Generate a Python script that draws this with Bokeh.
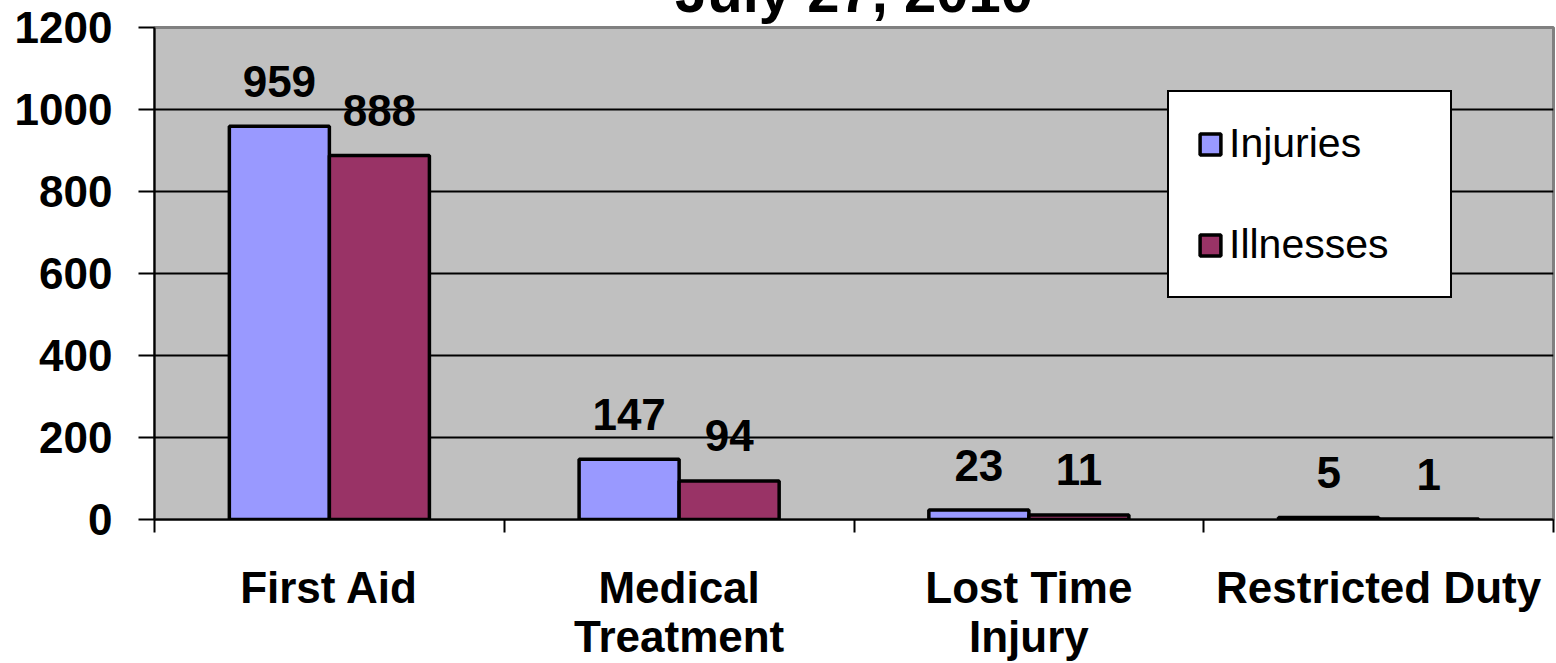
from bokeh.plotting import figure
from bokeh.models import (FixedTicker, Legend, LegendItem, ColumnDataSource, Range1d)
from bokeh.transform import dodge
from bokeh.core.properties import value
from bokeh.embed import file_html
from bokeh.resources import INLINE

# ---- data ----
categories = ["First Aid", "Medical\nTreatment", "Lost Time\nInjury", "Restricted Duty"]
series_names = ["Injuries", "Illnesses"]
injuries = [959, 147, 23, 5]
illnesses = [888, 94, 11, 1]
y_ticks = [0, 200, 400, 600, 800, 1000, 1200]
title_text = "July 27, 2010"

colors = ["#9999FF", "#993366"]
FONT = "Liberation Sans"

n = len(categories)
centers = [i + 0.5 for i in range(n)]
boundaries = [i for i in range(n + 1)]

src = ColumnDataSource(dict(
    x=centers,
    inj=injuries,
    ill=illnesses,
    inj_t=[str(v) for v in injuries],
    ill_t=[str(v) for v in illnesses],
))

# The original picture cuts the title off at its top edge: the canvas is
# taller than the window and shifted up, so only the bottom of the title shows.
HIDDEN = 73
p = figure(width=1556, height=663 + HIDDEN,
           x_range=Range1d(0, n), y_range=Range1d(y_ticks[0], y_ticks[-1]),
           output_backend="svg", toolbar_location=None,
           min_border_left=154, min_border_right=3, min_border_top=27 + HIDDEN,
           min_border_bottom=144)
p.styles = {"margin-top": f"-{HIDDEN}px"}

p.title.text = title_text
p.title.align = "center"
p.title.offset = -18
p.title.standoff = 7
p.title.text_font = FONT
p.title.text_font_style = "bold"
p.title.text_font_size = "58px"
p.title.text_color = "black"

p.background_fill_color = "#C0C0C0"
p.border_fill_color = "white"
p.outline_line_color = "#808080"
p.outline_line_width = 3

bw = 0.286
r1 = p.vbar(x=dodge("x", -bw / 2, range=p.x_range), top="inj", width=bw, source=src,
            fill_color=colors[0], line_color="black", line_width=3.5)
r2 = p.vbar(x=dodge("x", bw / 2, range=p.x_range), top="ill", width=bw, source=src,
            fill_color=colors[1], line_color="black", line_width=3.5)

for col, top, off in (("inj_t", "inj", -bw / 2), ("ill_t", "ill", bw / 2)):
    p.text(x=dodge("x", off, range=p.x_range), y=top,
           text=col, source=src, text_align="center", text_baseline="alphabetic",
           y_offset=-45, text_font=value(FONT), text_font_style="bold",
           text_font_size="44px", text_color="black")

# grid
p.xgrid.visible = False
p.ygrid.ticker = FixedTicker(ticks=y_ticks[1:-1])
p.ygrid.grid_line_color = "black"
p.ygrid.grid_line_width = 2

# y axis
p.yaxis.ticker = FixedTicker(ticks=y_ticks)
p.yaxis.axis_line_color = "black"
p.yaxis.axis_line_width = 2
p.yaxis.major_tick_line_color = "black"
p.yaxis.major_tick_line_width = 2
p.yaxis.major_tick_in = 0
p.yaxis.major_tick_out = 16
p.yaxis.minor_tick_line_color = None
p.yaxis.major_label_standoff = 26
p.yaxis.major_label_text_font = FONT
p.yaxis.major_label_text_font_style = "bold"
p.yaxis.major_label_text_font_size = "44px"
p.yaxis.major_label_text_color = "black"

# x axis: labels at category centres, tick marks at category boundaries
p.xaxis.ticker = FixedTicker(ticks=centers, minor_ticks=boundaries)
p.xaxis.major_label_overrides = {c: lab for c, lab in zip(centers, categories)}
p.xaxis.axis_line_color = "black"
p.xaxis.axis_line_width = 2
p.xaxis.major_tick_line_color = None
p.xaxis.major_tick_in = 0
p.xaxis.major_tick_out = 0
p.xaxis.minor_tick_line_color = "black"
p.xaxis.minor_tick_line_width = 2
p.xaxis.minor_tick_in = 0
p.xaxis.minor_tick_out = 13
p.xaxis.major_label_standoff = 30
p.xaxis.major_label_text_font = FONT
p.xaxis.major_label_text_font_style = "bold"
p.xaxis.major_label_text_font_size = "44px"
p.xaxis.major_label_text_line_height = 1.0
p.xaxis.major_label_text_color = "black"

# legend
legend = Legend(items=[LegendItem(label=series_names[0], renderers=[r1]),
                       LegendItem(label=series_names[1], renderers=[r2])],
                location=(1013, 221))
legend.background_fill_color = "white"
legend.background_fill_alpha = 1
legend.border_line_color = "black"
legend.border_line_alpha = 1
legend.border_line_width = 2
legend.label_text_font = FONT
legend.label_text_font_size = "41px"
legend.label_text_color = "black"
legend.glyph_width = 26
legend.glyph_height = 26
legend.label_standoff = 6
legend.padding = 28
legend.spacing = 54
legend.margin = 0
legend.label_width = 193
p.add_layout(legend)

open("out.html", "w").write(file_html(p, INLINE))
